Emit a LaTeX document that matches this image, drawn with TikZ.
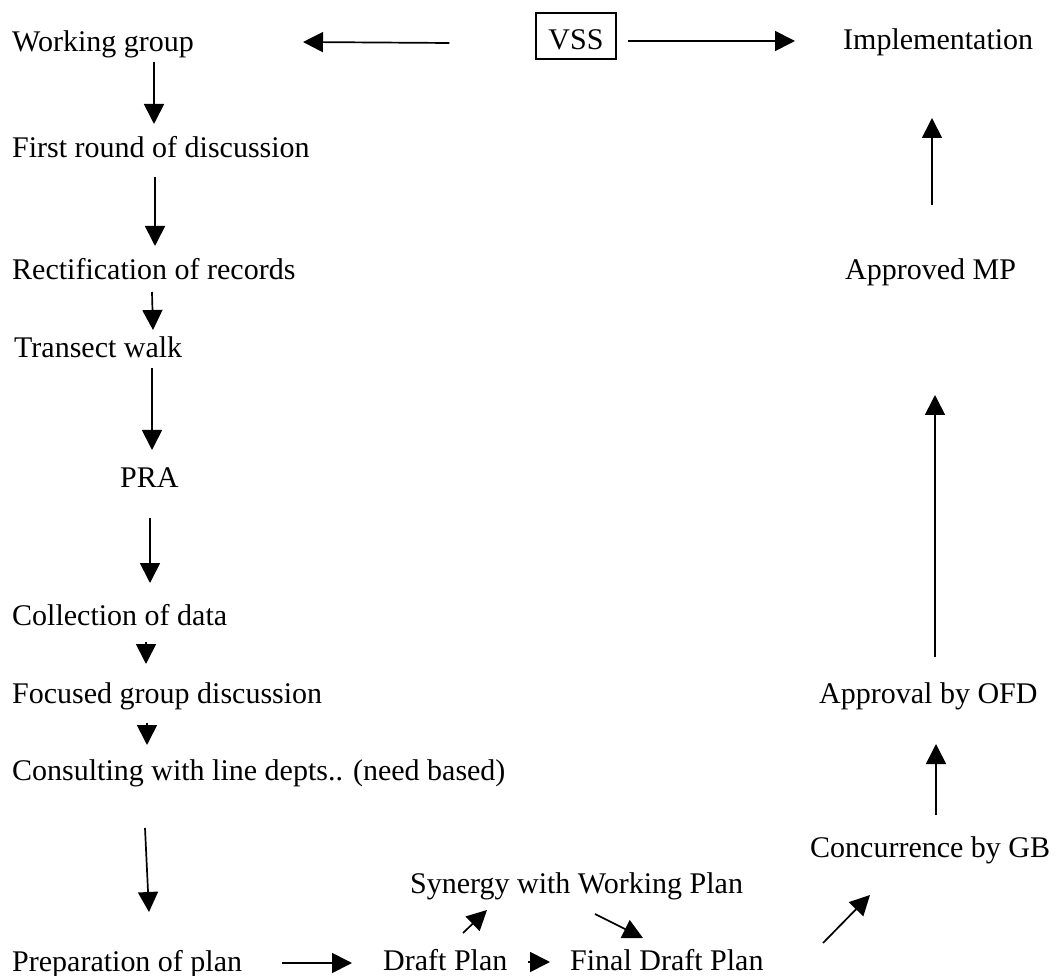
\documentclass[tikz,border=0pt]{standalone}
\usepackage{fontspec}
\setmainfont{Liberation Serif}
\usetikzlibrary{arrows.meta,calc}
\begin{document}
\begin{tikzpicture}[x=1pt,y=1pt,
  lbl/.style={anchor=base west,inner sep=0pt,font=\fontsize{30}{36}\selectfont},
  arr/.style={line width=1.7pt,-{Triangle[length=20pt,width=20pt]}}]
\useasboundingbox (0,0) rectangle (1061,-976);
\node[lbl] (wg) at (12,-52) {Working group};
\node[lbl] (fr) at (12,-158) {First round of discussion};
\node[lbl] (rr) at (12,-280) {Rectification of records};
\node[lbl] (tw) at (14,-358) {Transect walk};
\node[lbl] (pra) at (120,-487) {PRA};
\node[lbl] (cd) at (12,-625) {Collection of data};
\node[lbl] (fg) at (12,-703) {Focused group discussion};
\node[lbl] (cl) at (12,-780) {Consulting with line depts.. (need based)};
\node[lbl] (pp) at (12,-971) {Preparation of plan};
\node[lbl] (dp) at (383,-970) {Draft Plan};
\node[lbl] (fdp) at (570,-970) {Final Draft Plan};
\node[lbl] (syn) at (410,-893) {Synergy with Working Plan};
\node[lbl] (imp) at (843,-50) {Implementation};
\node[lbl] (amp) at (845,-280) {Approved MP};
\node[lbl] (ofd) at (819,-703) {Approval by OFD};
\node[lbl] (cgb) at (810,-857) {Concurrence by GB};
\node[draw,line width=1.2pt,inner sep=0pt,minimum width=80pt,minimum height=46pt,text height=28pt,text depth=0pt,font=\fontsize{30}{36}\selectfont] (vss) at (576,-36) {VSS};
\draw[arr] ($(vss.west)+(-86,-7)$) -- ($(wg.base west)+(291,10)$);
\draw[arr] ($(vss.east)+(11,-5)$) -- ($(imp.base west)+(-48,9)$);
\draw[arr] ($(wg.base west)+(142,-10)$) -- ($(fr.base west)+(142,34)$);
\draw[arr] ($(fr.base west)+(143,-19)$) -- ($(rr.base west)+(143,34)$);
\draw[arr] ($(rr.base west)+(140,-12)$) -- ($(tw.base west)+(139,28)$);
\draw[arr] ($(tw.base west)+(138,-10)$) -- ($(pra.base west)+(32,37)$);
\draw[arr] ($(pra.base west)+(30,-31)$) -- ($(cd.base west)+(138,42)$);
\draw[arr] ($(cd.base west)+(134,-17)$) -- ($(fg.base west)+(134,39)$);
\draw[arr] ($(fg.base west)+(135,-20)$) -- ($(cl.base west)+(135,35)$);
\draw[arr] ($(cl.base west)+(133,-48)$) -- ($(pp.base west)+(137,59)$);
\draw[arr] ($(pp.base west)+(270,8)$) -- ($(dp.base west)+(-31,7)$);
\draw[arr] ($(dp.base west)+(145,8)$) -- ($(fdp.base west)+(-20,8)$);
\draw[arr] ($(dp.base west)+(80,37)$) -- ($(syn.base west)+(77,-17)$);
\draw[arr] ($(syn.base west)+(185,-21)$) -- ($(fdp.base west)+(73,32)$);
\draw[arr] ($(fdp.base west)+(253,27)$) -- ($(cgb.base west)+(60,-38)$);
\draw[arr] ($(cgb.base west)+(126,42)$) -- ($(ofd.base west)+(117,-41)$);
\draw[arr] ($(ofd.base west)+(116,46)$) -- ($(amp.base west)+(90,-115)$);
\draw[arr] ($(amp.base west)+(87,75)$) -- ($(imp.base west)+(89,-68)$);
\end{tikzpicture}
\end{document}
